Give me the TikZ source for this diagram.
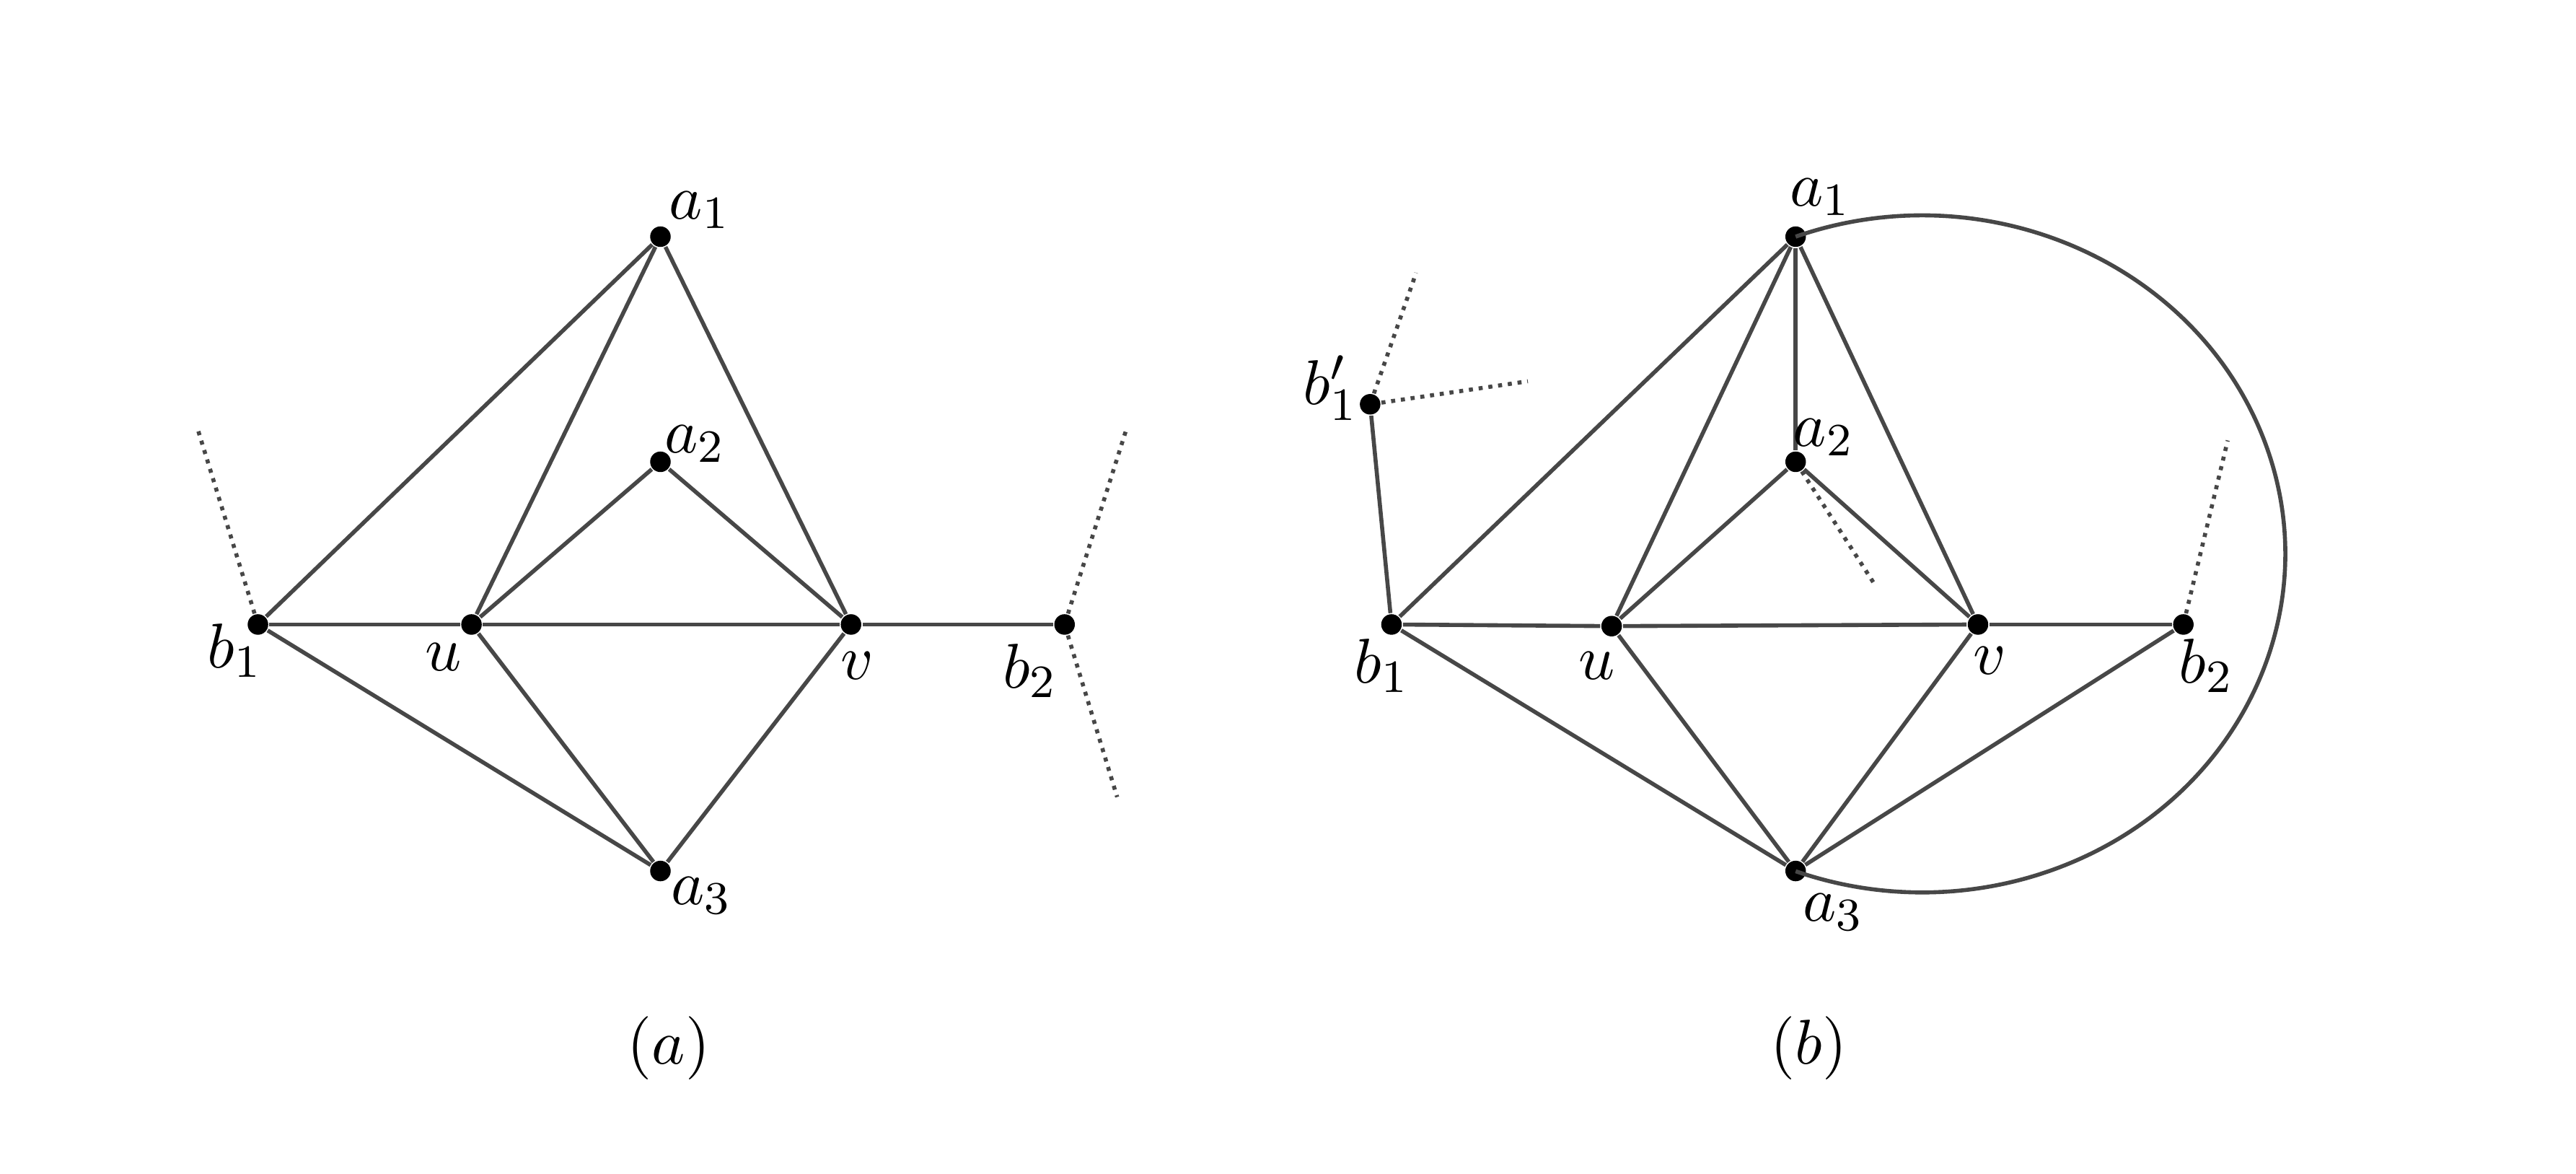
\documentclass[tikz,border=0pt]{standalone}
\usetikzlibrary{calc}
\definecolor{edgecol}{HTML}{474747}
\begin{document}
\begin{tikzpicture}[x=0.01cm,y=-0.01cm,
  vtx/.style={circle,fill=black,inner sep=0pt,minimum size=0.125cm},
  edg/.style={draw=edgecol,line width=0.7pt},
  dotl/.style={draw=edgecol,line width=0.7pt,dash pattern=on 0.7pt off 1.0pt},
  lbl/.style={inner sep=0pt,font=\fontsize{11}{13}\selectfont}]
\useasboundingbox (0,0) rectangle (1568,714);
% ---------- panel (a)
\node[vtx] (A1) at (402,144) {};
\node[vtx] (A2) at (402,281) {};
\node[vtx] (B1) at (157,380) {};
\node[vtx] (U)  at (287,380) {};
\node[vtx] (V)  at (518,380) {};
\node[vtx] (B2) at (648,380) {};
\node[vtx] (A3) at (402,530) {};
\coordinate (dA1) at (120,260);
\coordinate (dA2) at (686,260);
\coordinate (dA3) at (680,485);
\draw[dotl] (B1) -- (dA1);
\draw[dotl] (B2) -- (dA2);
\draw[dotl] (B2) -- (dA3);
\draw[edg] (B1) -- (A1);
\draw[edg] (B1) -- (U);
\draw[edg] (B1) -- (A3);
\draw[edg] (U) -- (A1);
\draw[edg] (U) -- (A2);
\draw[edg] (U) -- (V);
\draw[edg] (U) -- (A3);
\draw[edg] (A2) -- (V);
\draw[edg] (A1) -- (V);
\draw[edg] (V) -- (A3);
\draw[edg] (V) -- (B2);
\node[lbl] (lA1) at (426,128) {$a_1$};
\node[lbl] (lA2) at (423,270) {$a_2$};
\node[lbl] (lB1) at (143,396) {$b_1$};
\node[lbl] (lU)  at (270,400) {$u$};
\node[lbl] (lV)  at (522,405) {$v$};
\node[lbl] (lB2) at (627,408) {$b_2$};
\node[lbl] (lA3) at (427,545) {$a_3$};
\node[lbl] (capA) at (407,638) {$(a)$};
% ---------- panel (b)
\node[vtx] (C1) at (1093,144) {};
\node[vtx] (C2) at (1093,281) {};
\node[vtx] (D1) at (847,380) {};
\node[vtx] (W)  at (981,381) {};
\node[vtx] (X)  at (1204,380) {};
\node[vtx] (D2) at (1329,380) {};
\node[vtx] (C3) at (1093,530) {};
\node[vtx] (D1p) at (834,246) {};
\coordinate (dB1) at (862,166);
\coordinate (dB2) at (930,232);
\coordinate (dB3) at (1142,357);
\coordinate (dB4) at (1356,268);
\draw[dotl] (D1p) -- (dB1);
\draw[dotl] (D1p) -- (dB2);
\draw[dotl] (C2) -- (dB3);
\draw[dotl] (D2) -- (dB4);
\draw[edg] (D1p) -- (D1);
\draw[edg] (D1) -- (C1);
\draw[edg] (D1) -- (W);
\draw[edg] (D1) -- (C3);
\draw[edg] (W) -- (C1);
\draw[edg] (W) -- (C2);
\draw[edg] (W) -- (X);
\draw[edg] (W) -- (C3);
\draw[edg] (C1) -- (C2);
\draw[edg] (C1) -- (X);
\draw[edg] (C2) -- (X);
\draw[edg] (X) -- (D2);
\draw[edg] (X) -- (C3);
\draw[edg] (C3) -- (D2);
\draw[edg] (C1.center) arc[start angle=-110.4,end angle=110.4,x radius=221,y radius=206];
\node[lbl] (lC1) at (1108,120) {$a_1$};
\node[lbl] (lC2) at (1110,266) {$a_2$};
\node[lbl] (lD1p) at (810,236) {$b_1'$};
\node[lbl] (lD1) at (841,405) {$b_1$};
\node[lbl] (lW)  at (972,405) {$u$};
\node[lbl] (lX)  at (1211,402) {$v$};
\node[lbl] (lD2) at (1343,405) {$b_2$};
\node[lbl] (lC3) at (1116,555) {$a_3$};
\node[lbl] (capB) at (1101,638) {$(b)$};
\end{tikzpicture}
\end{document}
